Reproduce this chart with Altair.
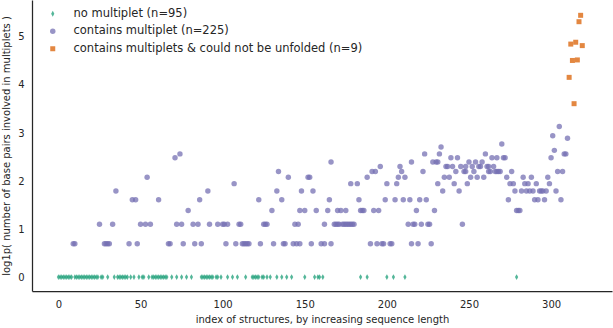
import numpy as np
import pandas as pd
import altair as alt

# Structure indices with no multiplet (all sit at log1p(0) = 0)
green_idx = (list(range(0, 9)) + list(range(10, 25)) + [26, 27, 30,
             34, 36, 37, 38, 39, 40, 41, 42, 44, 46, 49, 51, 52,
             55, 57, 58, 59, 60, 61, 62, 63, 64, 65, 66, 69, 72, 75, 78, 81,
             87, 88, 89, 90, 91, 92, 93, 94, 96, 97, 99, 103, 106, 109,
             114, 118, 119, 120, 121, 122, 124, 125, 127, 129, 133, 136, 139, 142,
             150, 156, 158, 159, 161, 184, 188, 200, 204, 211, 279])

# Structures containing multiplets: (index, base pairs involved in multiplets)
purple_pts = [
    (9, 1), (10, 1), (25, 2), (28, 1), (29, 1), (30, 1), (31, 1), (33, 2), (35, 5), (43, 1),
    (45, 4), (47, 4), (48, 1), (50, 2), (53, 2), (54, 7), (56, 2), (61, 4), (67, 1), (68, 1),
    (71, 11), (72, 2), (74, 12), (75, 2), (76, 1),
    (79, 3), (82, 2), (83, 1), (85, 2), (86, 4), (87, 1), (91, 5), (92, 2), (97, 2), (100, 2),
    (101, 2), (102, 1), (103, 2), (107, 6), (108, 1), (110, 2), (111, 2), (112, 1), (113, 1),
    (114, 1), (115, 1), (116, 1),
    (122, 4), (123, 1), (125, 2), (126, 2), (127, 2), (130, 3), (131, 1), (133, 5), (134, 8),
    (136, 4), (137, 1), (138, 1), (140, 7), (143, 1), (144, 2), (145, 1), (146, 2),
    (147, 1), (147, 3), (148, 5), (150, 3), (152, 7), (153, 7), (154, 1), (155, 5), (157, 3),
    (160, 1), (162, 1), (162, 2), (164, 3), (165, 4), (166, 1), (166, 10),
    (168, 2), (169, 2), (170, 2), (171, 2), (173, 2), (174, 2), (175, 2), (176, 2), (177, 2),
    (178, 2), (179, 2), (180, 2),
    (170, 3), (172, 3), (175, 3), (178, 6), (182, 6), (183, 4), (184, 3), (185, 3), (186, 3),
    (188, 7), (190, 1), (191, 8), (193, 8), (192, 3), (195, 3), (194, 1), (197, 1), (198, 1),
    (202, 1), (203, 1), (196, 9), (199, 4), (200, 6), (205, 4), (206, 6), (207, 7), (208, 9),
    (209, 8), (210, 4), (211, 7),
    (213, 2), (216, 2), (217, 2), (221, 2), (225, 2), (226, 2), (214, 4), (215, 10), (215, 1),
    (219, 1), (227, 1), (218, 3), (220, 4), (224, 4), (222, 8), (223, 12), (228, 10), (230, 10),
    (229, 3), (231, 6), (231, 10), (232, 12), (233, 14), (234, 5),
    (235, 7), (236, 9), (237, 9), (238, 7), (239, 11), (240, 9), (241, 6), (242, 8), (243, 11),
    (244, 5), (245, 9), (246, 2), (247, 8), (248, 8), (248, 9), (249, 6), (250, 10), (251, 7),
    (252, 9), (253, 8), (254, 10), (255, 7), (256, 9), (257, 9),
    (258, 10), (259, 7), (260, 12), (261, 9), (262, 9), (262, 8), (263, 8), (264, 11), (265, 9),
    (266, 8), (267, 8), (267, 11), (268, 8), (269, 8),
    (270, 15), (271, 11), (272, 11), (273, 7), (274, 4), (275, 6), (276, 8), (277, 6), (278, 5),
    (279, 3), (280, 3), (281, 3), (282, 5), (283, 7), (284, 6), (285, 5), (286, 6), (287, 5),
    (288, 7), (289, 5),
    (290, 4), (291, 6), (292, 4), (293, 5), (294, 5), (295, 5), (296, 4), (297, 5), (298, 7),
    (299, 6),
    (300, 11), (301, 18), (302, 13), (303, 5), (304, 8), (305, 22), (306, 4), (307, 8),
    (308, 12), (309, 12), (310, 17),
]

# Structures with multiplets that could not be unfolded
orange_idx = [311, 312, 313, 314, 315, 316, 317, 318, 319]
orange_pairs = [63, 127, 90, 36, 132, 91, 203, 232, 123]

purple_idx = [p[0] for p in purple_pts]
purple_pairs = [p[1] for p in purple_pts]

lab_none = f"no multiplet (n={len(green_idx)})"
lab_multi = f"contains multiplet (n={len(purple_idx)})"
lab_fail = f"contains multiplets & could not be unfolded (n={len(orange_idx)})"
groups = [lab_none, lab_multi, lab_fail]

df = pd.concat([
    pd.DataFrame({"idx": green_idx, "pairs": 0, "group": lab_none}),
    pd.DataFrame({"idx": purple_idx, "pairs": purple_pairs, "group": lab_multi}),
    pd.DataFrame({"idx": orange_idx, "pairs": orange_pairs, "group": lab_fail}),
], ignore_index=True)
df["val"] = np.log1p(df["pairs"])

thin_diamond = "M0,-1L0.55,0L0,1L-0.55,0Z"
font = "DejaVu Sans"
ink = "#262626"

legend = alt.Legend(
    orient="none", legendX=15, legendY=8, title=None,
    labelFont=font, labelFontSize=11.5, labelColor=ink, labelLimit=0,
    symbolSize=28, symbolOpacity=0.75, symbolStrokeWidth=0,
    labelOffset=15, rowPadding=4.5, padding=0,
)

chart = alt.Chart(df).mark_point(filled=True, opacity=0.75, strokeWidth=0).encode(
    x=alt.X("idx:Q", scale=alt.Scale(domain=[-16.1, 337.1], nice=False, zero=False),
            axis=alt.Axis(values=[0, 50, 100, 150, 200, 250, 300], labelPadding=8,
                          titlePadding=5,
                          title="index of structures, by increasing sequence length")),
    y=alt.Y("val:Q", scale=alt.Scale(domain=[-0.29, 5.77], nice=False, zero=False),
            axis=alt.Axis(values=[0, 1, 2, 3, 4, 5], labelPadding=8, titlePadding=6,
                          title="log1p( number of base pairs involved in multiplets )")),
    color=alt.Color("group:N", scale=alt.Scale(domain=groups,
                    range=["#1b9e77", "#7570b3", "#d95f02"]), legend=legend),
    shape=alt.Shape("group:N", scale=alt.Scale(domain=groups,
                    range=[thin_diamond, "circle", "square"]), legend=legend),
    size=alt.Size("group:N", scale=alt.Scale(domain=groups, range=[34, 25, 30]), legend=None),
).properties(
    width=580, height=291,
    autosize=alt.AutoSizeParams(type="none"),
    padding={"left": 32, "top": 0, "right": 1, "bottom": 37},
    background="white",
).configure_view(stroke=None).configure_axis(
    grid=False, ticks=False,
    domainColor=ink, domainWidth=1.25,
    labelFont=font, labelFontSize=10, labelColor=ink,
    titleFont=font, titleFontSize=10, titleFontWeight="normal", titleColor=ink,
)

chart.save("out.html", embed_options={"renderer": "svg", "actions": False})
